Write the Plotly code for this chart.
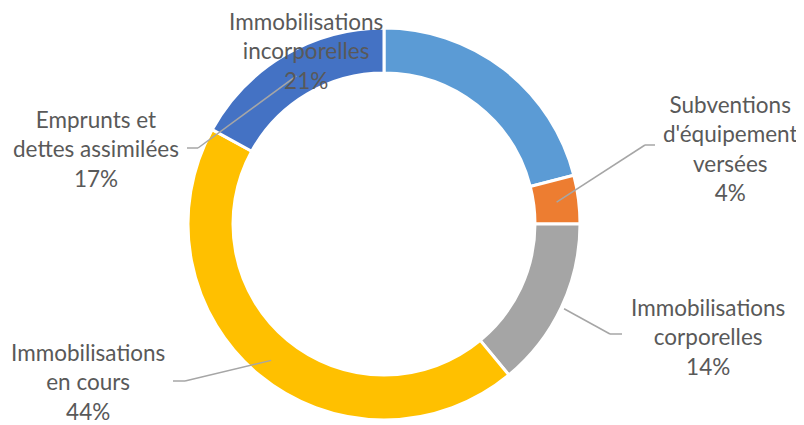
import math
import plotly.graph_objects as go

# ---- data ----
categories = [
    "Immobilisations incorporelles",
    "Subventions d'équipement versées",
    "Immobilisations corporelles",
    "Immobilisations en cours",
    "Emprunts et dettes assimilées",
]
values = [21, 4, 14, 44, 17]
label_lines = [
    ["Immobilisations", "incorporelles"],
    ["Subventions", "d'équipement", "versées"],
    ["Immobilisations", "corporelles"],
    ["Immobilisations", "en cours"],
    ["Emprunts et", "dettes assimilées"],
]

# ---- styles / layout ----
colors = ["#5B9BD5", "#ED7D31", "#A5A5A5", "#FFC000", "#4472C4"]
OFF = 8  # page body margin
W, H = 804 - OFF, 425 - OFF
CX, CY, R_OUT, R_IN = 384, 224, 196, 151
label_pos = [(306, 51), (730, 148), (708, 337), (88, 382), (96, 149)]
# leader: (radius of anchor point, elbow x, elbow y, end x) or None
leaders = [None, (174, 645, 145, 655), (199, 610, 334, 622), (177, 185, 381, 173), (172, 198, 148, 187)]


def px(x, y):
    return (x - OFF) / W, 1 - (y - OFF) / H


x0d, y1d = px(CX - R_OUT, CY - R_OUT)
x1d, y0d = px(CX + R_OUT, CY + R_OUT)

fig = go.Figure(
    go.Pie(
        labels=categories,
        values=values,
        sort=False,
        direction="clockwise",
        rotation=0,
        hole=R_IN / R_OUT,
        textinfo="none",
        marker=dict(colors=colors, line=dict(color="white", width=3)),
        showlegend=False,
        domain=dict(x=[x0d, x1d], y=[y0d, y1d]),
    )
)

total = sum(values)
annotations = []
shapes = []
cum = 0
for i, v in enumerate(values):
    mid = (cum + v / 2) / total * 2 * math.pi
    cum += v
    lx, ly = label_pos[i]
    ax, ay = px(lx, ly)
    annotations.append(
        dict(
            text="<br>".join(label_lines[i] + [f"{round(v / total * 100)}%"]),
            x=ax, y=ay, xref="paper", yref="paper",
            xanchor="center", yanchor="middle", showarrow=False,
            font=dict(family="Lato", size=22.5, color="#595959"),
        )
    )
    if leaders[i]:
        rr, ex, ey, hx = leaders[i]
        sx = CX + rr * math.sin(mid)
        sy = CY - rr * math.cos(mid)
        for (xa, ya, xb, yb) in [(sx, sy, ex, ey), (ex, ey, hx, ey)]:
            p0 = px(xa, ya)
            p1 = px(xb, yb)
            shapes.append(
                dict(type="line", xref="paper", yref="paper",
                     x0=p0[0], y0=p0[1], x1=p1[0], y1=p1[1],
                     line=dict(color="#A6A6A6", width=1.5))
            )

fig.update_layout(
    width=W, height=H,
    margin=dict(l=0, r=0, t=0, b=0),
    paper_bgcolor="white", plot_bgcolor="white",
    annotations=annotations, shapes=shapes,
)
fig.write_html("out.html")
